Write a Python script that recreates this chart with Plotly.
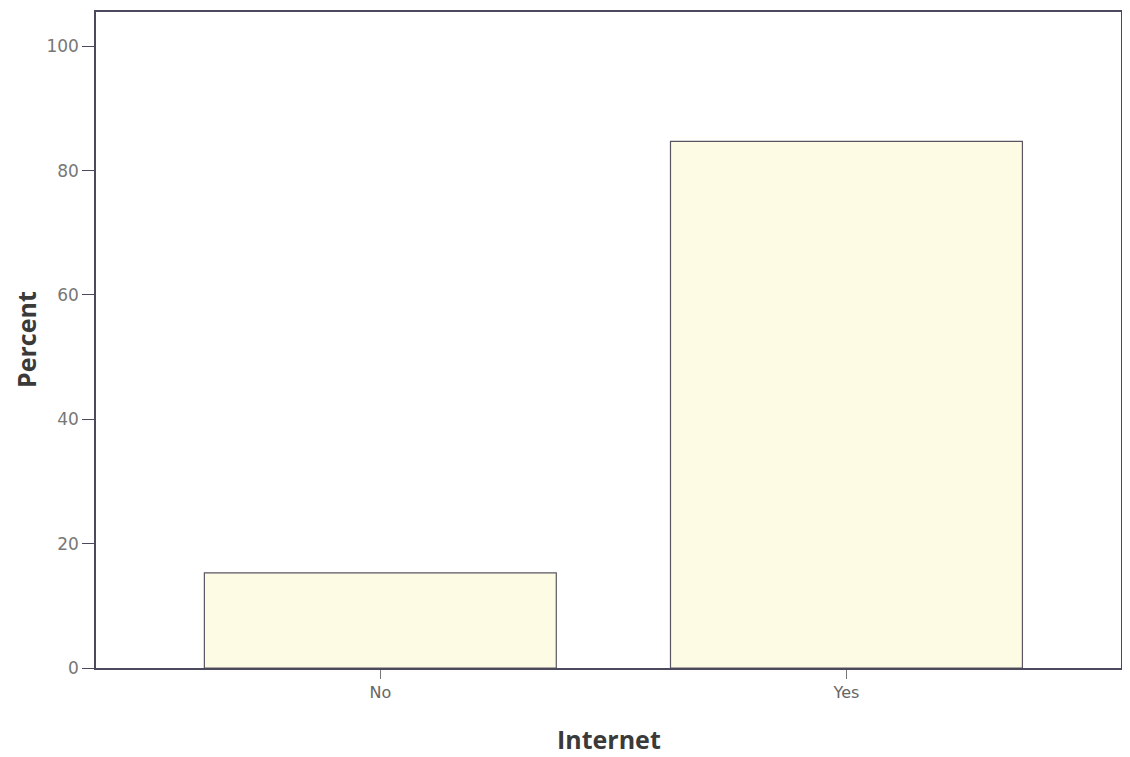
import plotly.graph_objects as go

categories = ["No", "Yes"]
percent = [15.3, 84.7]
y_ticks = [0, 20, 40, 60, 80, 100]

fig = go.Figure()
fig.add_trace(go.Bar(
    x=categories, y=percent, width=0.755,
    marker=dict(color="#FEFBE4", line=dict(color="#5a5560", width=1.2)),
))

axis_color = "#4a4a5c"
title_font = dict(family="Open Sans", size=25, color="#3a3a3a")
fig.update_layout(
    width=1114, height=749,
    margin=dict(l=88, r=1, t=4, b=89),
    paper_bgcolor="white", plot_bgcolor="white",
    showlegend=False,
    xaxis=dict(
        range=[-0.61, 1.589], showline=True, linecolor=axis_color, linewidth=1.5,
        mirror=True, ticks="outside", ticklen=9, tickcolor="#777", showgrid=False,
        automargin=False,
        tickfont=dict(family="DejaVu Sans", size=16, color="#666"),
    ),
    yaxis=dict(
        range=[0, 105.5], tickvals=y_ticks, showline=True, linecolor=axis_color, linewidth=1.5,
        mirror=True, ticks="outside", ticklen=12, tickcolor=axis_color, showgrid=False, zeroline=False,
        automargin=False,
        tickfont=dict(family="DejaVu Sans", size=17, color="#777"),
    ),
    annotations=[
        dict(text="<b>Internet</b>", xref="paper", yref="paper", x=0.5, y=0,
             xanchor="center", yanchor="middle", yshift=-71, showarrow=False, font=title_font),
        dict(text="<b>Percent</b>", xref="paper", yref="paper", x=0, y=0.5,
             xanchor="center", yanchor="middle", xshift=-70, textangle=-90, showarrow=False,
             font=title_font),
    ],
)

fig.write_html("out.html")
